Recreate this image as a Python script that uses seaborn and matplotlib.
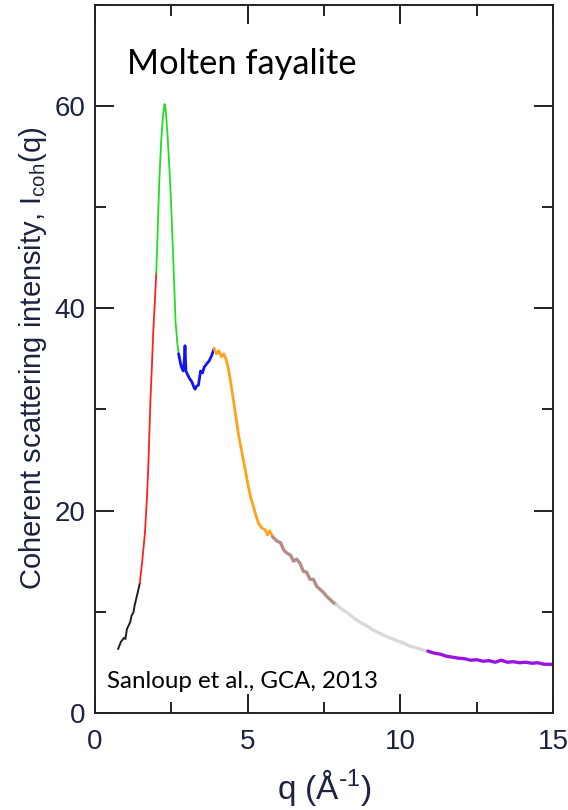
import matplotlib
matplotlib.use("Agg")
import matplotlib.pyplot as plt
from matplotlib.ticker import MultipleLocator
import seaborn as sns

# Coherent scattering intensity of molten fayalite, one array pair per q-range
q_black = [0.76, 0.85, 0.95, 1.00, 1.05, 1.10, 1.16, 1.20, 1.26, 1.30, 1.38, 1.47]
i_black = [6.3, 7.0, 7.4, 7.3, 8.3, 8.6, 9.0, 9.6, 9.9, 10.6, 11.6, 12.8]

q_red = [1.47, 1.55, 1.64, 1.70, 1.75, 1.82, 1.87, 1.91, 1.96, 2.01]
i_red = [12.8, 15.0, 17.8, 21.0, 24.4, 31.0, 34.5, 37.6, 40.5, 43.5]

q_green = [2.01, 2.06, 2.11, 2.17, 2.23, 2.28, 2.31, 2.34, 2.38, 2.44, 2.50, 2.57, 2.64, 2.70, 2.74]
i_green = [43.5, 48.0, 52.7, 56.5, 59.0, 60.2, 59.8, 58.8, 57.0, 53.8, 50.0, 44.5, 38.7, 36.5, 35.6]

q_blue = [2.74, 2.82, 2.89, 2.93, 2.95, 2.98, 3.04, 3.11, 3.18, 3.24, 3.28, 3.33, 3.39, 3.46, 3.52, 3.58, 3.66, 3.74, 3.82, 3.90]
i_blue = [35.5, 34.3, 33.8, 35.0, 36.3, 33.8, 33.4, 33.0, 32.7, 32.2, 32.0, 32.3, 32.4, 33.8, 33.6, 34.2, 34.5, 34.8, 35.3, 36.0]

q_orange = [3.90, 3.98, 4.06, 4.14, 4.22, 4.30, 4.37, 4.45, 4.53, 4.61, 4.69, 4.77,
            4.86, 4.94, 5.02, 5.10, 5.19, 5.27, 5.35, 5.45, 5.57, 5.65, 5.72, 5.82]
i_orange = [36.0, 35.5, 35.8, 35.2, 35.5, 34.9, 34.0, 32.6, 31.0, 29.4, 27.7, 26.4,
            25.0, 23.7, 22.4, 21.3, 20.4, 19.5, 18.8, 18.3, 18.1, 17.6, 18.0, 17.4]

q_brown = [5.82, 5.95, 6.08, 6.18, 6.28, 6.40, 6.50, 6.60, 6.71, 6.82, 6.93, 7.04,
           7.15, 7.26, 7.37, 7.48, 7.59, 7.70, 7.80, 7.90]
i_brown = [17.4, 17.0, 16.8, 16.1, 15.8, 15.6, 15.0, 15.2, 14.8, 14.0, 13.9, 13.2,
           13.2, 12.5, 12.2, 11.9, 11.5, 11.2, 10.9, 10.7]

q_gray = [7.90, 8.10, 8.30, 8.50, 8.70, 8.90, 9.10, 9.30, 9.50, 9.70, 9.90, 10.10,
          10.30, 10.50, 10.70, 10.90]
i_gray = [10.7, 10.2, 9.8, 9.3, 8.9, 8.6, 8.2, 7.9, 7.6, 7.35, 7.1, 6.9,
          6.6, 6.45, 6.25, 6.05]

q_purple = [10.9, 11.1, 11.3, 11.5, 11.7, 11.9, 12.1, 12.3, 12.5, 12.7, 12.9, 13.1,
            13.3, 13.5, 13.7, 13.9, 14.1, 14.3, 14.5, 14.7, 14.9, 15.0]
i_purple = [6.1, 5.9, 5.8, 5.6, 5.5, 5.4, 5.35, 5.2, 5.25, 5.1, 5.15, 5.0,
            5.2, 5.0, 5.05, 4.95, 5.0, 4.9, 4.95, 4.8, 4.8, 4.75]

x_ticks = [0, 5, 10, 15]
y_ticks = [0, 20, 40, 60]

segments = [
    (q_black, i_black, "#1e1e1e", 1.4),
    (q_red, i_red, "#ff2020", 1.3),
    (q_green, i_green, "#22dd22", 1.3),
    (q_blue, i_blue, "#1414ee", 2.0),
    (q_orange, i_orange, "#ffa31a", 2.0),
    (q_brown, i_brown, "#b48c88", 2.4),
    (q_gray, i_gray, "#d9d9d9", 2.4),
    (q_purple, i_purple, "#9a14e0", 2.4),
]

sns.set_theme(style="ticks")
plt.rcParams["font.family"] = ["Liberation Sans", "DejaVu Sans"]
plt.rcParams["mathtext.default"] = "regular"

fig = plt.figure(figsize=(5.68, 8.10), dpi=100)
ax = fig.add_axes([0.167, 0.120, 0.807, 0.874])

for qs, vals, col, lw in segments:
    sns.lineplot(x=qs, y=vals, color=col, linewidth=lw, sort=False,
                 estimator=None, ax=ax)

ax.set_xlim(0, 15)
ax.set_ylim(0, 70)
ax.set_xticks(x_ticks)
ax.set_yticks(y_ticks)
ax.xaxis.set_minor_locator(MultipleLocator(2.5))
ax.yaxis.set_minor_locator(MultipleLocator(10))

label_col = "#1c2340"
ax.tick_params(which="both", direction="in", top=True, right=True,
               color="#222222", width=1.4)
ax.tick_params(which="major", length=14, labelsize=20, labelcolor=label_col)
ax.tick_params(which="minor", length=8)
ax.tick_params(axis="x", which="major", pad=12)
ax.tick_params(axis="y", which="major", pad=7)
for sp in ax.spines.values():
    sp.set_linewidth(1.4)
    sp.set_color("#222222")

ax.set_xlabel(r"q (Å$^{\text{-}1}$)", fontsize=24, color=label_col, labelpad=8)
ax.set_ylabel("Coherent scattering intensity, I$_{coh}$(q)", fontsize=21,
              color=label_col, labelpad=4)

ax.text(0.07, 0.9025, "Molten fayalite", transform=ax.transAxes,
        fontsize=24.8, family=["Lato", "DejaVu Sans"], color="black",
        ha="left", va="baseline")
ax.text(0.026, 0.035, "Sanloup et al., GCA, 2013", transform=ax.transAxes,
        fontsize=17.4, family=["Lato", "DejaVu Sans"], color="black",
        ha="left", va="baseline")

fig.savefig("out.png", dpi=100)
